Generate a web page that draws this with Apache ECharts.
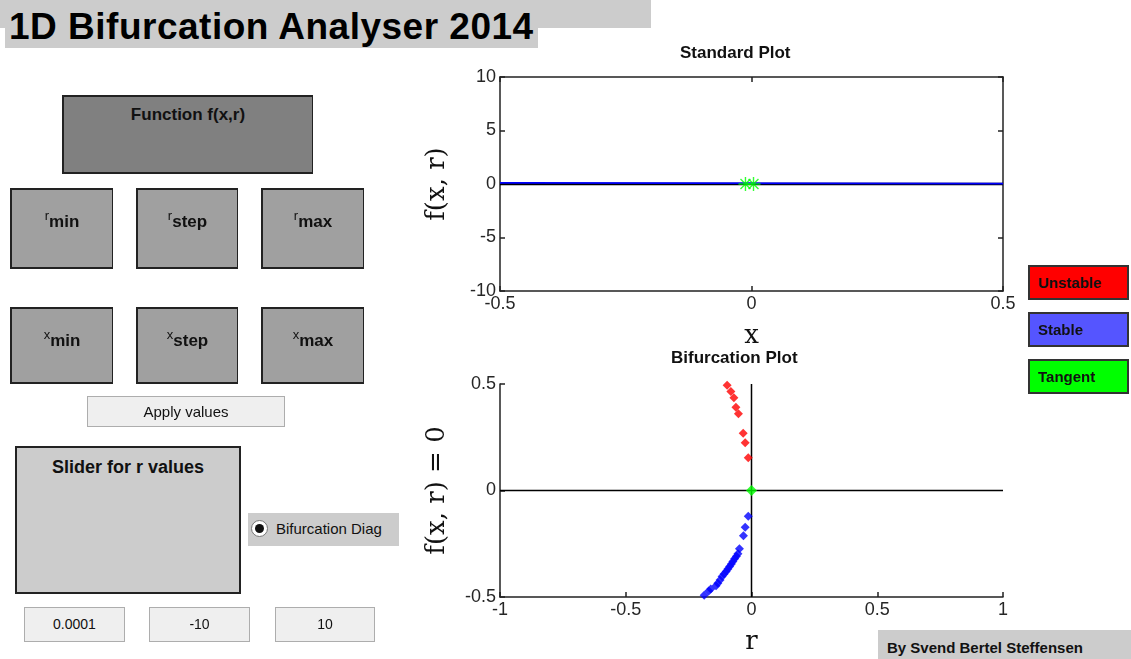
<!DOCTYPE html>
<html>
<head>
<meta charset="utf-8">
<script src="https://cdn.jsdelivr.net/npm/echarts@6/dist/echarts.min.js"></script>
<style>
  html, body { margin: 0; padding: 0; background: #fff; }
  #wrap { position: relative; width: 1131px; height: 659px; overflow: hidden; font-family: "Liberation Sans", Arial, sans-serif; }
  #myChart { position: absolute; left: 0; top: 0; width: 1131px; height: 659px; }
  .box { position: absolute; box-sizing: border-box; }
  .dark { background: #808080; border: 2px solid #222; border-right-width: 1px; }
  .mid { background: #a0a0a0; border: 2px solid #222; border-right-width: 1px; }
  .lbl { position: absolute; left: 0; right: 0; text-align: center; font-weight: bold; font-size: 17px; color: #111; }
  .lbl .s { font-size: 13px; font-weight: normal; vertical-align: 7px; }
  .field { background: #efefef; border: 1px solid #adadad; text-align: center; font-size: 14px; color: #111; }
  .btn { box-sizing: border-box; position: absolute; border: 2px solid #333; font-weight: bold; font-size: 15px; color: #111; padding-left: 8px; line-height: 31px; }
</style>
</head>
<body>
<div id="wrap">
  <div id="myChart"></div>

  <!-- title -->
  <div class="box" style="left:0;top:0;width:651px;height:28px;background:#cccccc;"></div>
  <div class="box" style="left:5px;top:0;width:533px;height:48px;background:#cccccc;"></div>
  <div class="box" style="left:9px;top:8px;font-size:37px;line-height:37px;font-weight:bold;color:#000;letter-spacing:0.5px;">1D Bifurcation Analyser 2014</div>

  <!-- inputs -->
  <div class="box dark" style="left:62px;top:95px;width:251px;height:79px;"><div class="lbl" style="top:8px;">Function f(x,r)</div></div>

  <div class="box mid" style="left:10px;top:188px;width:103px;height:81px;"><div class="lbl" style="top:18px;"><span class="s">r</span>min</div></div>
  <div class="box mid" style="left:136px;top:188px;width:102px;height:81px;"><div class="lbl" style="top:18px;"><span class="s">r</span>step</div></div>
  <div class="box mid" style="left:261px;top:188px;width:103px;height:81px;"><div class="lbl" style="top:18px;"><span class="s">r</span>max</div></div>

  <div class="box mid" style="left:10px;top:307px;width:103px;height:77px;"><div class="lbl" style="top:18px;"><span class="s">x</span>min</div></div>
  <div class="box mid" style="left:136px;top:307px;width:102px;height:77px;"><div class="lbl" style="top:18px;"><span class="s">x</span>step</div></div>
  <div class="box mid" style="left:261px;top:307px;width:103px;height:77px;"><div class="lbl" style="top:18px;"><span class="s">x</span>max</div></div>

  <div class="box field" style="left:87px;top:396px;width:198px;height:31px;line-height:29px;font-size:15px;">Apply values</div>

  <div class="box" style="left:15px;top:446px;width:226px;height:148px;background:#cccccc;border:2px solid #222;"><div class="lbl" style="top:9px;font-size:18px;">Slider for r values</div></div>

  <div class="box" style="left:248px;top:513px;width:151px;height:33px;background:#cccccc;"></div>
  <div class="box" style="left:251px;top:520px;width:17px;height:17px;border-radius:50%;background:#fff;border:1px solid #777;"></div>
  <div class="box" style="left:255px;top:524px;width:9px;height:9px;border-radius:50%;background:#111;"></div>
  <div class="box" style="left:276px;top:520px;font-size:15px;color:#111;">Bifurcation Diag</div>

  <div class="box field" style="left:24px;top:607px;width:101px;height:35px;line-height:33px;">0.0001</div>
  <div class="box field" style="left:149px;top:607px;width:101px;height:35px;line-height:33px;">-10</div>
  <div class="box field" style="left:275px;top:607px;width:100px;height:35px;line-height:33px;">10</div>

  <!-- colour key -->
  <div class="btn" style="left:1028px;top:265px;width:101px;height:35px;background:#ff0000;">Unstable</div>
  <div class="btn" style="left:1028px;top:312px;width:101px;height:35px;background:#5555ff;">Stable</div>
  <div class="btn" style="left:1028px;top:359px;width:101px;height:35px;background:#00ff00;">Tangent</div>

  <div class="box" style="left:878px;top:630px;width:253px;height:29px;background:#cccccc;font-weight:bold;font-size:15px;line-height:35px;padding-left:9px;color:#111;">By Svend Bertel Steffensen</div>
</div>

<script>
// standard plot: f(x, r) at current r
var stdX = [-0.5, -0.455, -0.452, 0.5];
var stdY = [0.1, 0.1, 0.03, 0.03];
var tangentStdX = [-0.012, 0.004];
var tangentStdY = [0, 0];

// bifurcation plot: fixed points x* against r
var unstableR = [-0.097, -0.082, -0.070, -0.062, -0.052, -0.033, -0.025, -0.013];
var unstableX = [0.494, 0.465, 0.435, 0.391, 0.360, 0.269, 0.224, 0.154];
var stableR = [-0.013, -0.025, -0.032, -0.048, -0.054, -0.060, -0.067, -0.074, -0.080, -0.087,
  -0.094, -0.101, -0.109, -0.117, -0.125, -0.134, -0.141, -0.162, -0.170, -0.188];
var stableX = [-0.121, -0.172, -0.213, -0.274, -0.297, -0.309, -0.321, -0.333, -0.345, -0.357,
  -0.369, -0.380, -0.392, -0.404, -0.420, -0.436, -0.447, -0.462, -0.472, -0.492];
var tangentR = [0];
var tangentX = [0];

// tick labels
var stdXTicks = [-0.5, 0, 0.5];
var stdYTicks = [-10, -5, 0, 5, 10];
var bifXTicks = [-1, -0.5, 0, 0.5, 1];
var bifYTicks = [-0.5, 0, 0.5];

function zip(a, b) {
  return a.map(function (v, i) { return [v, b[i]]; });
}

var myChart = echarts.init(document.getElementById("myChart"));

var tickFont = { color: "#262626", fontSize: 18, fontFamily: "Liberation Sans" };
var asterisk = "path://M9,0h2v7.6l5.4-5.4l1.4,1.4l-5.4,5.4h7.6v2h-7.6l5.4,5.4l-1.4,1.4l-5.4-5.4v7.6h-2v-7.6l-5.4,5.4l-1.4-1.4l5.4-5.4h-7.6v-2h7.6l-5.4-5.4l1.4-1.4l5.4,5.4z";

function axisX(gridIndex, min, max, interval, show, pos) {
  return {
    type: "value", gridIndex: gridIndex, min: min, max: max, interval: interval, position: pos,
    axisLine: { show: true, onZero: false, lineStyle: { color: "#222", width: 1.5 } },
    axisTick: { show: true, inside: true, length: 5, lineStyle: { color: "#222", width: 1.5 } },
    axisLabel: Object.assign({ show: show, margin: 4, formatter: function (v) { return String(v); } }, tickFont),
    splitLine: { show: false }
  };
}

var option = {
  animation: false,
  grid: [
    { left: 500, top: 77, width: 503, height: 214 },
    { left: 500, top: 384, width: 503, height: 213 }
  ],
  graphic: [
    { type: "text", left: 680, top: 45, style: { text: "Standard Plot", fontSize: 17, fontWeight: "bold", fontFamily: "Liberation Sans", fill: "#111" } },
    { type: "text", left: 671, top: 350, style: { text: "Bifurcation Plot", fontSize: 17, fontWeight: "bold", fontFamily: "Liberation Sans", fill: "#111" } }
  ],
  xAxis: [
    Object.assign(axisX(0, -0.5, 0.5, 0.5, true, "bottom"), {
      name: "x", nameLocation: "middle", nameGap: 32,
      nameTextStyle: { fontSize: 26, fontFamily: "DejaVu Serif", color: "#111" }
    }),
    axisX(0, -0.5, 0.5, 0.5, false, "top"),
    Object.assign(axisX(1, -1, 1, 0.5, true, "bottom"), {
      name: "r", nameLocation: "middle", nameGap: 32,
      nameTextStyle: { fontSize: 26, fontFamily: "DejaVu Serif", color: "#111" }
    })
  ],
  yAxis: [
    Object.assign(axisX(0, -10, 10, 5, true, "left"), {
      name: "f(x, r)", nameLocation: "middle", nameGap: 50, nameRotate: 90,
      nameTextStyle: { fontSize: 26, fontFamily: "DejaVu Serif", color: "#111" }
    }),
    axisX(0, -10, 10, 5, false, "right"),
    Object.assign(axisX(1, -0.5, 0.5, 0.5, true, "left"), {
      name: "f(x, r) = 0", nameLocation: "middle", nameGap: 50, nameRotate: 90,
      nameTextStyle: { fontSize: 26, fontFamily: "DejaVu Serif", color: "#111" }
    })
  ],
  series: [
    {
      type: "line", xAxisIndex: 0, yAxisIndex: 0, symbol: "none", z: 1,
      data: [[-0.5, 0], [0.5, 0]], lineStyle: { color: "#000", width: 2.5 }
    },
    {
      type: "line", xAxisIndex: 0, yAxisIndex: 0, symbol: "none", z: 2,
      data: zip(stdX, stdY), lineStyle: { color: "#0000ff", width: 1.8 }
    },
    {
      type: "scatter", xAxisIndex: 0, yAxisIndex: 0, symbol: asterisk, symbolSize: 14, z: 5,
      data: zip(tangentStdX, tangentStdY), itemStyle: { color: "#00ff00" }
    },
    {
      type: "line", xAxisIndex: 2, yAxisIndex: 2, symbol: "none", z: 1,
      data: [[-1, 0], [1, 0]], lineStyle: { color: "#000", width: 1.5 }
    },
    {
      type: "line", xAxisIndex: 2, yAxisIndex: 2, symbol: "none", z: 1,
      data: [[0, -0.5], [0, 0.5]], lineStyle: { color: "#000", width: 1.5 }
    },
    {
      type: "scatter", xAxisIndex: 2, yAxisIndex: 2, symbol: "diamond", symbolSize: 9, z: 5,
      data: zip(unstableR, unstableX), itemStyle: { color: "#ff0000" }
    },
    {
      type: "scatter", xAxisIndex: 2, yAxisIndex: 2, symbol: "diamond", symbolSize: 9, z: 5,
      data: zip(stableR, stableX), itemStyle: { color: "#0000ff" }
    },
    {
      type: "scatter", xAxisIndex: 2, yAxisIndex: 2, symbol: "diamond", symbolSize: 11, z: 6,
      data: zip(tangentR, tangentX), itemStyle: { color: "#00ff00" }
    }
  ]
};
myChart.setOption(option);
</script>
</body>
</html>
